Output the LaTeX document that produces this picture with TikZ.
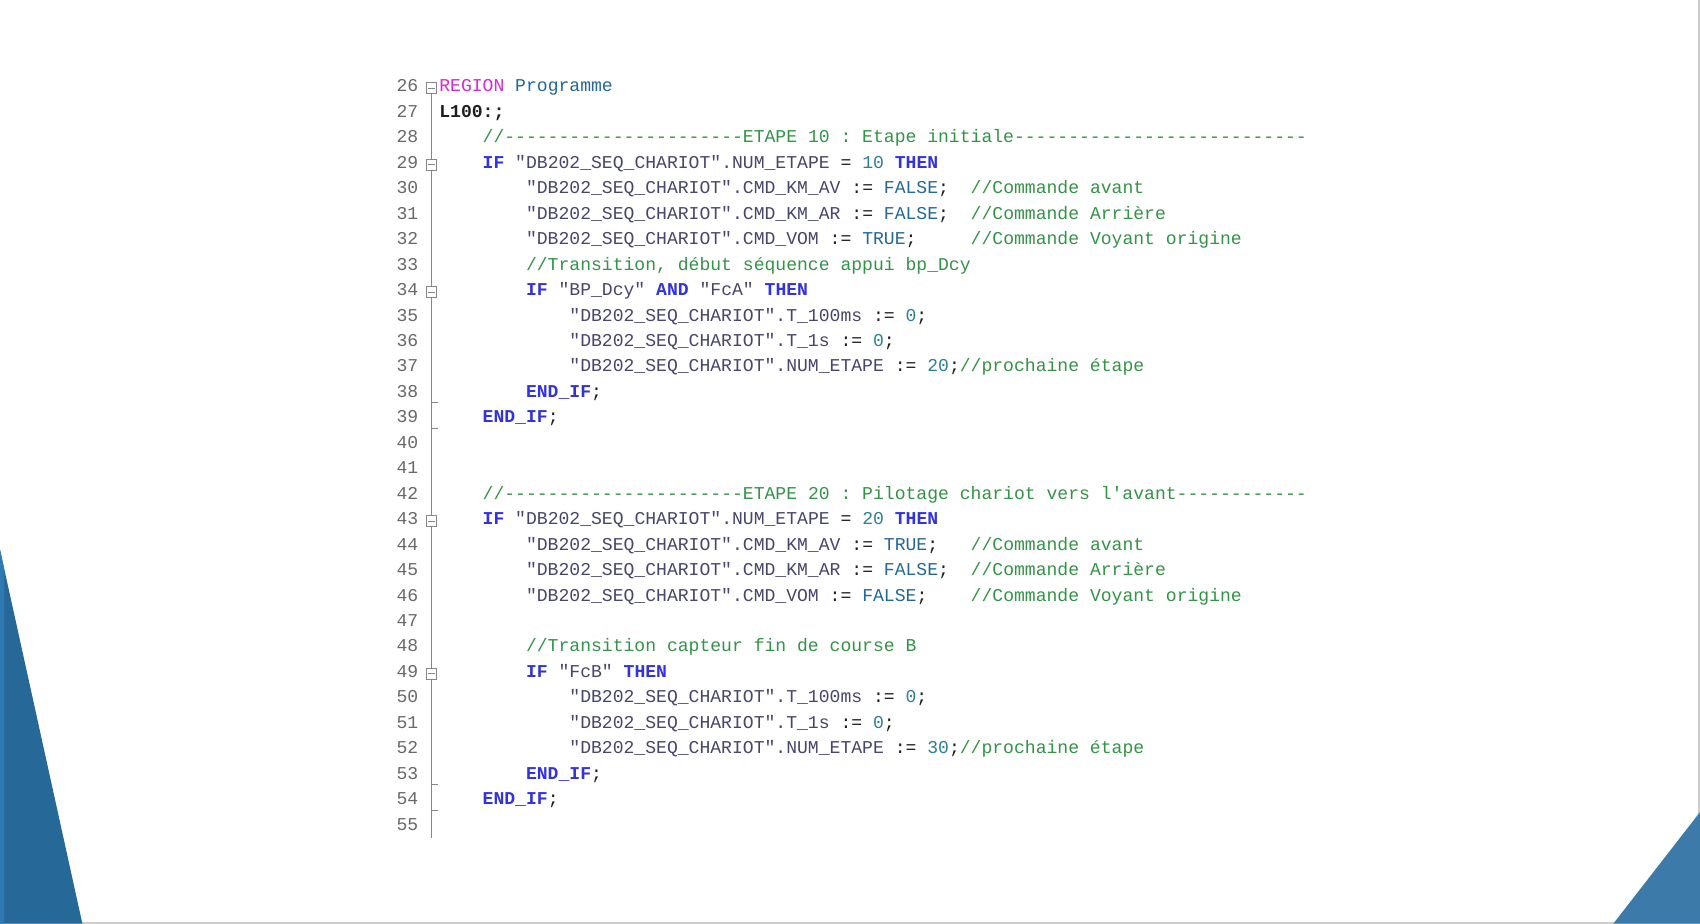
\documentclass[tikz,border=0pt]{standalone}
\usepackage{fontspec}
\setmonofont{Liberation Mono}
\usepackage{xcolor}
\usepackage{tikz}
\usetikzlibrary{positioning}

\definecolor{kwdblue}{RGB}{50,50,222}
\definecolor{regionmag}{RGB}{214,42,214}
\definecolor{konstblue}{RGB}{36,104,150}
\definecolor{numbteal}{RGB}{44,128,148}
\definecolor{identslate}{RGB}{72,70,108}
\definecolor{cmntgreen}{RGB}{52,148,70}
\definecolor{opblack}{RGB}{30,30,30}
\definecolor{lnumgray}{RGB}{105,105,105}
\definecolor{gutgray}{RGB}{135,135,135}
\definecolor{slideedge}{RGB}{205,205,205}
\definecolor{leftblue}{RGB}{38,104,152}
\definecolor{leftstrip}{RGB}{48,122,180}
\definecolor{rightblue}{RGB}{60,122,170}

\newcommand{\codefont}{\ttfamily\fontsize{16.67pt}{20pt}\selectfont\frenchspacing}
\newcommand{\kwd}[1]{{\bfseries\color{kwdblue}#1}}
\newcommand{\ident}[1]{{\color{identslate}#1}}
\newcommand{\konst}[1]{{\color{konstblue}#1}}
\newcommand{\numb}[1]{{\color{numbteal}#1}}
\newcommand{\cmnt}[1]{{\color{cmntgreen}#1}}
\newcommand{\oper}[1]{{\color{opblack}#1}}

\begin{document}
\begin{tikzpicture}[x=1pt, y=-1pt]
        \tikzset{lnum/.style={anchor=base east, inner sep=0pt, font=\codefont, text=lnumgray}}
        \tikzset{codeline/.style={anchor=base west, inner sep=0pt, font=\codefont, text=opblack}}
        \tikzset{gutter/.style={draw=gutgray, line width=1.1pt}}
        \tikzset{foldbox/.style={draw=gutgray, fill=white, line width=0.9pt, minimum size=10pt, inner sep=0pt,
            path picture={\draw[gutgray, line width=0.9pt] ([xshift=-3pt]path picture bounding box.center) -- ([xshift=3pt]path picture bounding box.center);}}}

        \useasboundingbox (0,0) rectangle (1568,852);
        \fill[white] (0,0) rectangle (1568,852);
        \draw[slideedge, line width=2pt] (1567,0) -- (1567,851) -- (0,851);
        \fill[leftblue] (0,507) -- (76,852) -- (0,852) -- cycle;
        \fill[leftstrip] (0,507) -- (3.7,523.8) -- (3.7,852) -- (0,852) -- cycle;
        \fill[rightblue] (1568,749) -- (1568,852) -- (1488,852) -- cycle;

        % line numbers
        \foreach \n in {26,...,55}
            \node [lnum] (n\n) at (386, {84.8+(\n-26)*23.48}) {\n};

        % folding gutter
        \coordinate (gutterend) at (398,773);
        \foreach \l in {26,29,34,43,49}
            \node [foldbox] (f\l) at ([xshift=12pt, yshift=3.3pt]n\l.base east) {};
        \draw [gutter] (f26) -- (f29) (f29) -- (f34) (f34) -- (f43) (f43) -- (f49) (f49) -- (gutterend);
        \foreach \l in {38,39,53,54}
            \draw [gutter] ([xshift=12pt, yshift=-5pt]n\l.base east) -- ++(6pt,0pt);

        % code
        \node [codeline] (c26) at ([xshift=19pt]n26.base east) {{\color{regionmag}REGION} \konst{Programme}};
        \node [codeline] (c27) at ([xshift=19pt]n27.base east) {{\bfseries L100:;}};
        \node [codeline] (c28) at ([xshift=59pt]n28.base east) {\cmnt{//----------------------ETAPE 10 : Etape initiale---------------------------}};
        \node [codeline] (c29) at ([xshift=59pt]n29.base east) {\kwd{IF} \ident{"DB202\_SEQ\_CHARIOT".NUM\_ETAPE} = \numb{10} \kwd{THEN}};
        \node [codeline] (c30) at ([xshift=99pt]n30.base east) {\ident{"DB202\_SEQ\_CHARIOT".CMD\_KM\_AV} := \konst{FALSE};~~\cmnt{//Commande avant}};
        \node [codeline] (c31) at ([xshift=99pt]n31.base east) {\ident{"DB202\_SEQ\_CHARIOT".CMD\_KM\_AR} := \konst{FALSE};~~\cmnt{//Commande Arrière}};
        \node [codeline] (c32) at ([xshift=99pt]n32.base east) {\ident{"DB202\_SEQ\_CHARIOT".CMD\_VOM} := \konst{TRUE};~~~~~\cmnt{//Commande Voyant origine}};
        \node [codeline] (c33) at ([xshift=99pt]n33.base east) {\cmnt{//Transition, début séquence appui bp\_Dcy}};
        \node [codeline] (c34) at ([xshift=99pt]n34.base east) {\kwd{IF} \ident{"BP\_Dcy"} \kwd{AND} \ident{"FcA"} \kwd{THEN}};
        \node [codeline] (c35) at ([xshift=139pt]n35.base east) {\ident{"DB202\_SEQ\_CHARIOT".T\_100ms} := \numb{0};};
        \node [codeline] (c36) at ([xshift=139pt]n36.base east) {\ident{"DB202\_SEQ\_CHARIOT".T\_1s} := \numb{0};};
        \node [codeline] (c37) at ([xshift=139pt]n37.base east) {\ident{"DB202\_SEQ\_CHARIOT".NUM\_ETAPE} := \numb{20};\cmnt{//prochaine étape}};
        \node [codeline] (c38) at ([xshift=99pt]n38.base east) {\kwd{END\_IF};};
        \node [codeline] (c39) at ([xshift=59pt]n39.base east) {\kwd{END\_IF};};

        \node [codeline] (c42) at ([xshift=59pt]n42.base east) {\cmnt{//----------------------ETAPE 20 : Pilotage chariot vers l'avant------------}};
        \node [codeline] (c43) at ([xshift=59pt]n43.base east) {\kwd{IF} \ident{"DB202\_SEQ\_CHARIOT".NUM\_ETAPE} = \numb{20} \kwd{THEN}};
        \node [codeline] (c44) at ([xshift=99pt]n44.base east) {\ident{"DB202\_SEQ\_CHARIOT".CMD\_KM\_AV} := \konst{TRUE};~~~\cmnt{//Commande avant}};
        \node [codeline] (c45) at ([xshift=99pt]n45.base east) {\ident{"DB202\_SEQ\_CHARIOT".CMD\_KM\_AR} := \konst{FALSE};~~\cmnt{//Commande Arrière}};
        \node [codeline] (c46) at ([xshift=99pt]n46.base east) {\ident{"DB202\_SEQ\_CHARIOT".CMD\_VOM} := \konst{FALSE};~~~~\cmnt{//Commande Voyant origine}};
        \node [codeline] (c48) at ([xshift=99pt]n48.base east) {\cmnt{//Transition capteur fin de course B}};
        \node [codeline] (c49) at ([xshift=99pt]n49.base east) {\kwd{IF} \ident{"FcB"} \kwd{THEN}};
        \node [codeline] (c50) at ([xshift=139pt]n50.base east) {\ident{"DB202\_SEQ\_CHARIOT".T\_100ms} := \numb{0};};
        \node [codeline] (c51) at ([xshift=139pt]n51.base east) {\ident{"DB202\_SEQ\_CHARIOT".T\_1s} := \numb{0};};
        \node [codeline] (c52) at ([xshift=139pt]n52.base east) {\ident{"DB202\_SEQ\_CHARIOT".NUM\_ETAPE} := \numb{30};\cmnt{//prochaine étape}};
        \node [codeline] (c53) at ([xshift=99pt]n53.base east) {\kwd{END\_IF};};
        \node [codeline] (c54) at ([xshift=59pt]n54.base east) {\kwd{END\_IF};};
    \end{tikzpicture}
\end{document}
